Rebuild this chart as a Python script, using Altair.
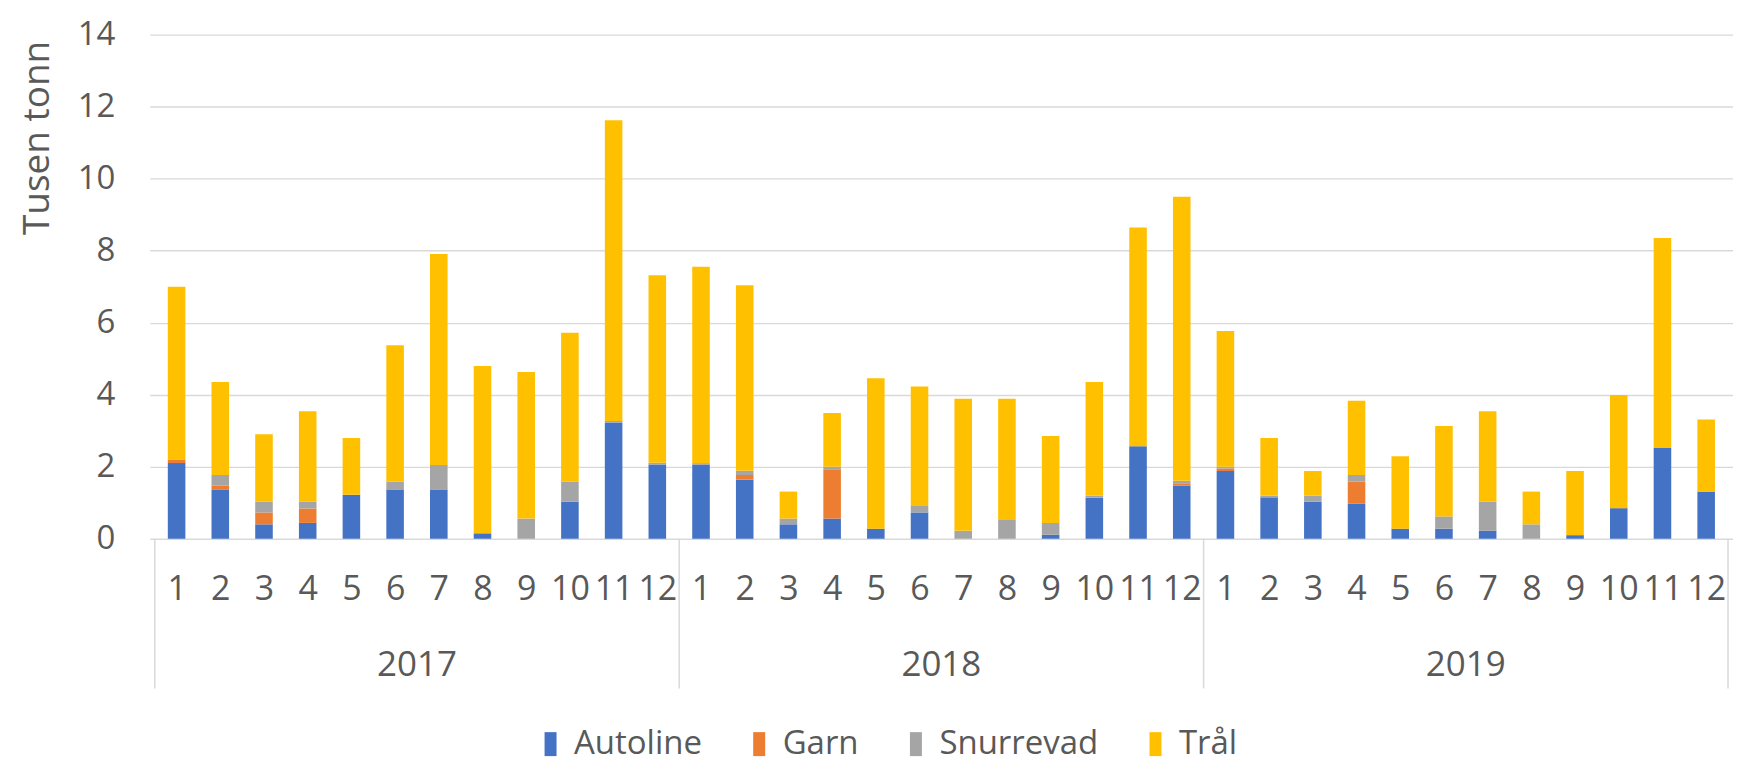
import altair as alt
import pandas as pd

years = ["2017", "2018", "2019"]
month_labels = ["1", "2", "3", "4", "5", "6", "7", "8", "9", "10", "11", "12"]
series = ["Autoline", "Garn", "Snurrevad", "Trål"]
colors = ["#4472C4", "#ED7D31", "#A5A5A5", "#FFC000"]

autoline = [2.10, 1.37, 0.40, 0.44, 1.22, 1.37, 1.37, 0.15, 0.00, 1.03, 3.23, 2.06,
            2.05, 1.64, 0.40, 0.56, 0.28, 0.73, 0.00, 0.00, 0.11, 1.14, 2.57, 1.48,
            1.88, 1.15, 1.03, 0.97, 0.28, 0.28, 0.22, 0.00, 0.10, 0.85, 2.52, 1.31]
garn = [0.10, 0.11, 0.33, 0.40, 0.00, 0.00, 0.00, 0.00, 0.00, 0.00, 0.00, 0.00,
        0.00, 0.13, 0.00, 1.37, 0.00, 0.00, 0.00, 0.00, 0.00, 0.00, 0.00, 0.06,
        0.07, 0.00, 0.00, 0.62, 0.00, 0.00, 0.00, 0.00, 0.00, 0.00, 0.00, 0.00]
snurrevad = [0.00, 0.29, 0.30, 0.19, 0.00, 0.22, 0.68, 0.00, 0.56, 0.56, 0.04, 0.05,
             0.05, 0.12, 0.16, 0.07, 0.00, 0.18, 0.22, 0.52, 0.33, 0.06, 0.00, 0.07,
             0.05, 0.05, 0.17, 0.18, 0.00, 0.34, 0.81, 0.40, 0.00, 0.00, 0.00, 0.00]
tral = [4.80, 2.58, 1.87, 2.51, 1.58, 3.78, 5.86, 4.65, 4.07, 4.13, 8.35, 5.21,
        5.45, 5.15, 0.75, 1.49, 4.18, 3.32, 3.67, 3.37, 2.41, 3.15, 6.07, 7.89,
        3.77, 1.60, 0.68, 2.06, 2.01, 2.51, 2.51, 0.91, 1.78, 3.14, 5.83, 2.00]

y_ticks = [0, 2, 4, 6, 8, 10, 12, 14]

values_by_series = [autoline, garn, snurrevad, tral]
rows = []
for si, (name, vals) in enumerate(zip(series, values_by_series)):
    for i, v in enumerate(vals):
        rows.append({"idx": i, "series": name, "sidx": si, "value": v,
                     "year": years[i // 12], "month": month_labels[i % 12]})
df = pd.DataFrame(rows)

n = len(month_labels)
bounds = pd.DataFrame({"b": [k * n - 0.5 for k in range(len(years) + 1)]})
year_df = pd.DataFrame({"year": years, "c": [k * n + (n - 1) / 2 for k in range(len(years))]})

TOP = 26
W, H = 1586, 505
TXT = "#595959"
GRID = "#D9D9D9"

label_arr = "[" + ",".join("'" + m + "'" for m in month_labels) + "]"

xscale = alt.Scale(domain=[-0.5, len(years) * n - 0.5], nice=False, zero=False)

bars = alt.Chart(df).mark_bar(size=17.6).encode(
    x=alt.X("idx:Q", scale=xscale, title=None,
            axis=alt.Axis(values=list(range(len(years) * n)),
                          labelExpr=label_arr + "[datum.value % 12]",
                          grid=False, domain=False, ticks=False,
                          labelFontSize=34, labelColor=TXT, labelPadding=51,
                          labelBaseline="middle", labelFlush=False, labelOverlap=False)),
    y=alt.Y("value:Q", stack="zero",
            scale=alt.Scale(domain=[0, 14], nice=False),
            axis=alt.Axis(values=y_ticks, grid=True, gridColor=GRID, gridWidth=1.4,
                          domain=False, ticks=False, labelFontSize=33, labelColor=TXT,
                          labelPadding=35, title="Tusen tonn", titleFontSize=37,
                          titleFontWeight="normal", titleColor=TXT,
                          titleX=-112, titleY=137 - 8 - TOP, titleAngle=-90,
                          titleAlign="center", titleBaseline="middle")),
    color=alt.Color("series:N", scale=alt.Scale(domain=series, range=colors),
                    legend=alt.Legend(title=None, orient="none", direction="horizontal",
                                      legendX=385, legendY=728 - 8 - TOP,
                                      symbolType="M-0.5,-1H0.5V1H-0.5Z",
                                      symbolSize=576, symbolStrokeWidth=0,
                                      labelFontSize=33, labelColor=TXT, labelLimit=0,
                                      labelOffset=7, columnPadding=40)),
    order=alt.Order("sidx:Q", sort="ascending"),
)

dividers = alt.Chart(bounds).mark_rule(color=GRID, strokeWidth=1.5).encode(
    x=alt.X("b:Q", scale=xscale),
    y=alt.value(H),
    y2=alt.value(H + 150),
)

year_text = alt.Chart(year_df).mark_text(fontSize=35, color=TXT, baseline="middle").encode(
    x=alt.X("c:Q", scale=xscale),
    y=alt.value(665 - 8 - TOP),
    text="year:N",
)

chart = alt.layer(bars, dividers, year_text).properties(
    width=W, height=H,
    autosize=alt.AutoSizeParams(type="none"),
    padding={"left": 142, "top": TOP, "right": 0, "bottom": 760 - TOP - H},
).configure(font="Open Sans").configure_view(stroke=None)

chart.save("out.html", embed_options={"renderer": "svg", "actions": False})
